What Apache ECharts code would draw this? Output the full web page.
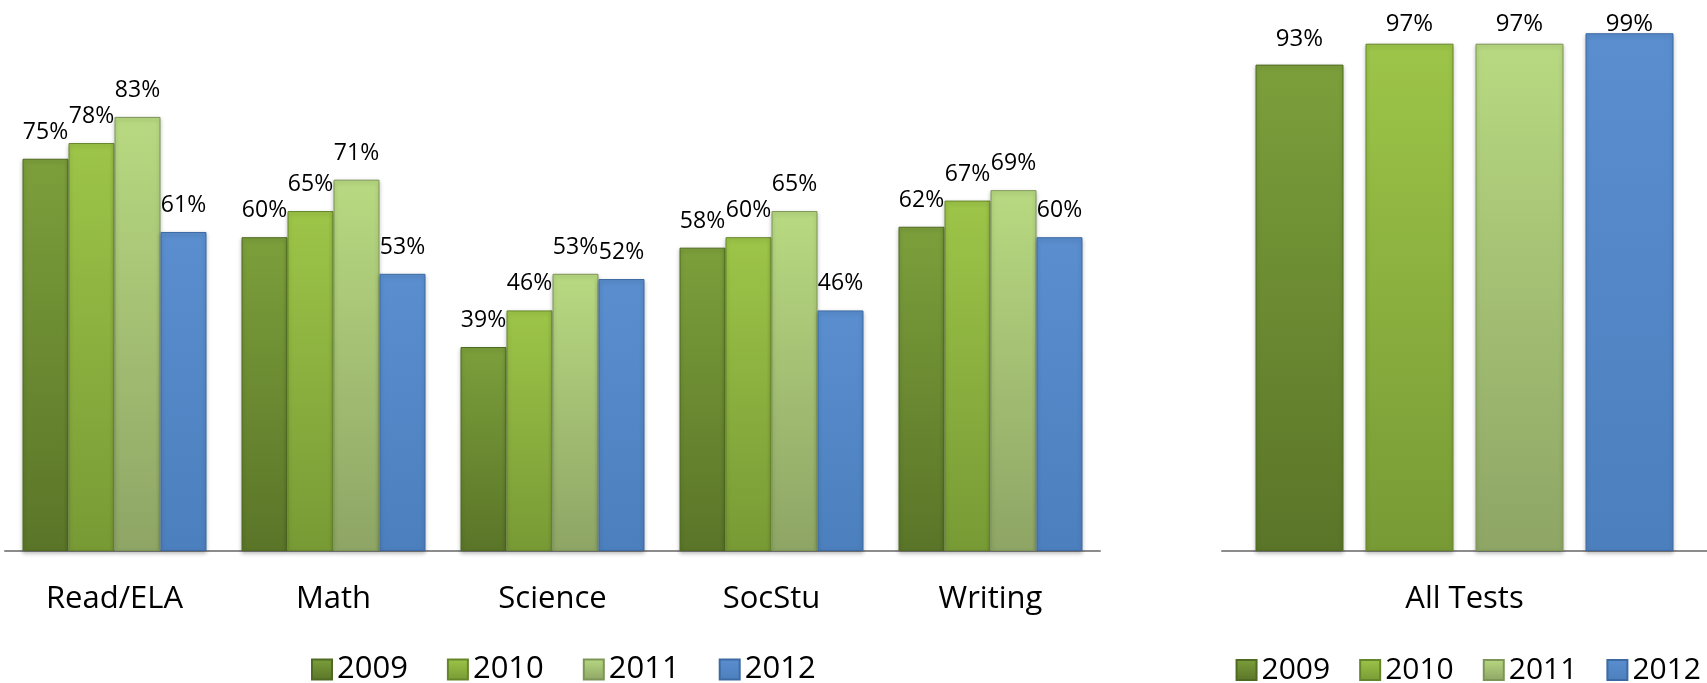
<!DOCTYPE html>
<html>
<head>
<meta charset="utf-8">
<script src="https://cdn.jsdelivr.net/npm/echarts@6/dist/echarts.min.js"></script>
<style>
html,body{margin:0;padding:0;background:#fff;}
#chart{width:1707px;height:683px;}
</style>
</head>
<body>
<div id="chart"></div>
<script>
// ---- data ----
var subjects = ['Read/ELA', 'Math', 'Science', 'SocStu', 'Writing'];
var allCategory = ['All Tests'];
var years = ['2009', '2010', '2011', '2012'];
var subj2009 = [75, 60, 39, 58, 62];
var subj2010 = [78, 65, 46, 60, 67];
var subj2011 = [83, 71, 53, 65, 69];
var subj2012 = [61, 53, 52, 46, 60];
var all2009 = [93];
var all2010 = [97];
var all2011 = [97];
var all2012 = [99];

// ---- styles ----
var FONT = '"Open Sans", "Noto Sans", sans-serif';
function grad(top, bottom) {
  return new echarts.graphic.LinearGradient(0, 0, 0, 1, [
    { offset: 0, color: top },
    { offset: 1, color: bottom }
  ]);
}
var yearColors = [
  { fill: grad('#7c9f3b', '#5a7528'), border: '#4f6a22' },
  { fill: grad('#9dc548', '#789a35'), border: '#66862b' },
  { fill: grad('#b8d981', '#8ea565'), border: '#7d9658' },
  { fill: grad('#5a8ecf', '#4c7fbd'), border: '#3d6aa3' }
];
var leftData = [subj2009, subj2010, subj2011, subj2012];
var rightData = [all2009, all2010, all2011, all2012];

function labelFmt(p) { return p.value + '%'; }

var series = [];
years.forEach(function (y, i) {
  series.push({
    name: y, type: 'bar', xAxisIndex: 0, yAxisIndex: 0,
    data: leftData[i], barWidth: 46, barGap: '0%',
    itemStyle: { color: yearColors[i].fill, borderColor: yearColors[i].border, borderWidth: 1,
      shadowColor: 'rgba(0,0,0,0.25)', shadowBlur: 4, shadowOffsetY: 2 },
    label: { show: true, position: 'top', distance: 15, formatter: labelFmt,
      fontFamily: FONT, fontSize: 23, color: '#000' },
    emphasis: { disabled: true }, animation: false
  });
});
years.forEach(function (y, i) {
  series.push({
    name: y, type: 'bar', xAxisIndex: 1, yAxisIndex: 1,
    data: rightData[i], barWidth: 88, barGap: '25%',
    itemStyle: { color: yearColors[i].fill, borderColor: yearColors[i].border, borderWidth: 1,
      shadowColor: 'rgba(0,0,0,0.25)', shadowBlur: 4, shadowOffsetY: 2 },
    label: { show: true, position: 'top', distance: 13, formatter: labelFmt,
      fontFamily: FONT, fontSize: 24, color: '#000' },
    labelLayout: function (p) {
      var minTop = 12;
      if (p.labelRect.y < minTop) { return { dy: minTop - p.labelRect.y }; }
      return {};
    },
    emphasis: { disabled: true }, animation: false
  });
});

function catAxis(idx, data) {
  return {
    type: 'category', gridIndex: idx, data: data,
    axisLine: { show: true, lineStyle: { color: '#8c8c8c', width: 2 } },
    axisTick: { show: false },
    axisLabel: { fontFamily: FONT, fontSize: 31, color: '#000', margin: 33 }
  };
}
function valAxis(idx) {
  return { type: 'value', gridIndex: idx, min: 0, max: 100, interval: 20, show: false, splitLine: { show: false } };
}

var chart = echarts.init(document.getElementById('chart'), null, { renderer: 'canvas' });
chart.setOption({
  backgroundColor: '#ffffff',
  animation: false,
  grid: [
    { left: 5, right: 607, top: 28, bottom: 132 },
    { left: 1222, right: 0, top: 28, bottom: 132 }
  ],
  xAxis: [catAxis(0, subjects), catAxis(1, allCategory)],
  yAxis: [valAxis(0), valAxis(1)],
  legend: [
    { left: 306, top: 649, width: 700, orient: 'horizontal', data: years, icon: 'rect',
      itemWidth: 20, itemHeight: 20, itemGap: 39,
      textStyle: { fontFamily: FONT, fontSize: 31, color: '#000' }, selectedMode: false },
    { right: 1, top: 650, width: 600, orient: 'horizontal', data: years, icon: 'rect',
      itemWidth: 20, itemHeight: 20, itemGap: 29,
      textStyle: { fontFamily: FONT, fontSize: 30, color: '#000' }, selectedMode: false }
  ],
  series: series
});
</script>
</body>
</html>
